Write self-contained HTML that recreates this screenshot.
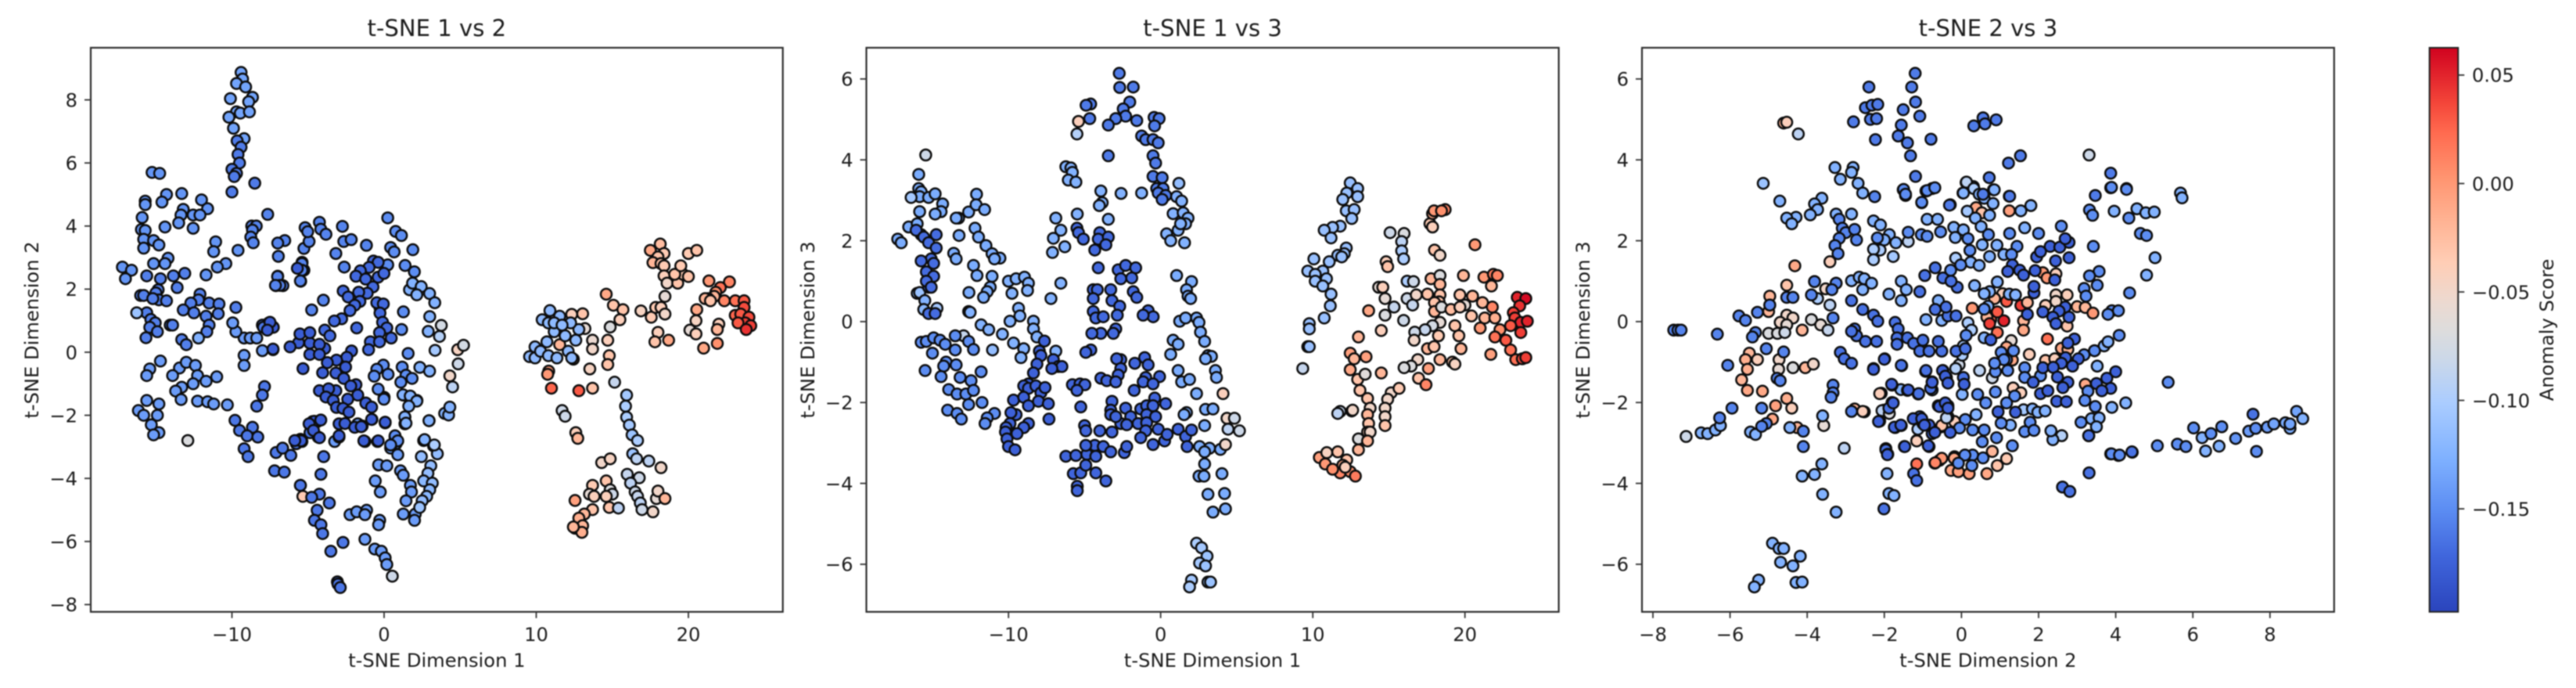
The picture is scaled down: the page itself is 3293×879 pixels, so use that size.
<!DOCTYPE html>
<html lang="en"><head><meta charset="utf-8"><title>t-SNE projections</title>
<style>
html,body{margin:0;padding:0;background:#fff;width:3293px;height:879px;overflow:hidden}
svg{display:block;filter:blur(.85px)}
text{font-family:"DejaVu Sans","Liberation Sans",sans-serif;fill:#1c1c1c;font-size:24.2px}
</style></head><body>
<svg id="chart" xmlns="http://www.w3.org/2000/svg" width="3293" height="879" viewBox="0 0 3293 879">
<defs><linearGradient id="cbGrad" x1="0" y1="1" x2="0" y2="0"></linearGradient></defs>
<rect width="3293" height="879" fill="#fff"/>
</svg>
<script>
/* ---------- axis ticks and scale ---------- */
const xTicksDim1=[-10,0,10,20];
const yTicksDim2=[-8,-6,-4,-2,0,2,4,6,8];
const yTicksDim3=[-6,-4,-2,0,2,4,6];
const xTicksDim2=[-8,-6,-4,-2,0,2,4,6,8];
const colorbarTicks=[-0.15,-0.10,-0.05,0.00,0.05];
const scoreDomain=[-0.1975,0.0626];
const colormapColors=["#2a44bc","#4066dc","#5b8cf2","#7eb0ff","#aaccff","#ccd8e8","#dddcdc","#ecd9d0","#ffcdb5","#ffb090","#ff9470","#ff6a4f","#f4473a","#d0021f"];
const colormapFractions=[0,.1,.18,.27,.37,.45,.5,.55,.62,.7,.77,.85,.9,1];

/* ---------- panel 1: dim 1 vs dim 2 ---------- */
const p1SpikeTopX=[-9.4,-9.3,-9.7,-9.1,-8.65,-10.1,-8.9,-9.7,-9.45,-8.85,-10.2,-9.9,-9.2];
const p1SpikeTopY=[8.87,8.66,8.52,8.41,8.08,8.04,7.94,7.62,7.58,7.62,7.45,7.1,6.77];
const p1SpikeTopS=[-0.135];
const p1SpikeLowX=[-9.66,-9.4,-9.6,-9.5,-10,-9.7,-9.85,-8.5,-10];
const p1SpikeLowY=[6.7,6.5,6.27,6,5.8,5.67,5.57,5.36,5.08];
const p1SpikeLowS=[-0.16];
const p1UpperLeftAX=[-15.25,-14.75,-13.3,-14.3,-14.6,-15.7,-15.7,-12,-11.6,-13.2,-13.35,-12.55,-12.1,-15.9,-13.5,-12.55,-14.4,-15.95,-15.7,-15.8,-15.15,-14.8,-15.8,-11.07,-11.2,-9.6,-10.4,-10.96,-11.7,-14.2,-14.4,-15.15,-17.2,-16.6,-17];
const p1UpperLeftAY=[5.7,5.67,5.03,5,4.76,4.79,4.68,4.83,4.55,4.53,4.35,4.35,4.35,4.27,4.1,3.93,3.97,3.89,3.86,3.58,3.54,3.4,3.3,3.5,3.19,3.23,2.81,2.7,2.45,2.98,2.81,2.81,2.7,2.6,2.33];
const p1UpperLeftAS=[-0.145];
const p1UpperLeftBX=[-15.6,-14.7,-13.85,-13.1,-13.6,-14.85,-16,-15.8,-15,-14.8,-14.3,-15.2,-12.1,-12.2,-12.7,-11.5,-10.85,-9.74,-15.6,-13.2,-12.5,-11.7,-10.9,-15.33,-15.04,-15.4,-14.9,-14.06,-13.9,-11.5,-11.65,-15.65,-13.3,-13];
const p1UpperLeftBY=[2.42,2.33,2.42,2.5,2.05,1.98,1.8,1.8,1.88,1.66,1.63,1.7,1.84,1.66,1.56,1.56,1.53,1.42,1.25,1.34,1.25,1.14,1.22,1.04,.93,.79,.65,.86,.86,.86,.65,.46,.4,.24];
const p1UpperLeftBS=[-0.158];
const p1PaleLeftX=[-16.26,-12.2,-12.9];
const p1PaleLeftY=[1.25,.45,-2.8];
const p1PaleLeftS=[-0.11,-0.125,-0.07];
const p1CentreUpperX=[-6.95,-6.53,-6.99,-5.27,-4.93,-5.19,-5.02,-4.25,-4.16,-3.82,-5.39,-5.27,-5.48,-6.99,-7.11,-6.65,-8.7,-8.4,-8.65,-8.76,-8.6,-7.65,-5.6,-5.4,-5.4,-7,-6.85,-7.14,-5.5,-2.65,-2.16,-2.74,-3.17,-2.62,-1.16,-3.99,-4.76];
const p1CentreUpperY=[3.04,3.54,3.46,3.29,3.51,3.95,3.82,4.12,3.9,3.74,2.85,2.6,2.25,2.41,2.11,2.11,4,4,3.87,3.65,3.47,4.37,2.67,2.81,2.6,2.4,2.12,2.12,2.26,3.51,3.57,3.99,3.13,2.7,3.39,1.65,1.34];
const p1CentreUpperS=[-0.155];
const p1CoreTopX=[-.7,-.39,-.99,-1.56,-1.85,-1.21,-.39,-.01,-.73,-1.11,-1.67,-2.69,-2.36,-1.59,-1.93,-2.24,-2.79,-3.27,-1.8,-3.9,-3.56,-.27,-.48,-.05,-.27,-.1,.18,-.3,.47,-.9,-.3,-1.02];
const p1CoreTopY=[2.89,2.85,2.69,2.58,2.41,2.32,2.38,2.5,2.07,1.87,1.9,1.94,1.75,1.61,1.49,1.32,1.06,.99,.77,.7,.52,1.41,1.57,1.53,1.24,.95,.77,.62,.45,.33,.33,.08];
const p1CoreTopS=[-0.17];
const p1CoreX=[-5.7,-3.9,-5.62,-6.18,-4.88,-5.53,-4.88,-4.25,-4.88,-4.25,-7.3,-7.28,-7.5,-7.67,-2.14,-2.45,-3.13,-3.73,-5.33,-2.53,-4.04,-3.17,-2.65,-1.85,-2.19,-3.17,-4.25,-3.65,-1.73,-3.82,-3.34,-2.39,-1.2,-.82,-3.13,-2.7,-2.31,-4.59,-4.16,-4.93,-4.64,-4.25,-5.45,-5.87,-2.96,-2.96,-2.57,-1.93,-1.5,-.82,.07,-1.33,-.39];
const p1CoreY=[2.66,.12,.3,.17,.29,.58,.62,.25,-.07,-.07,.1,.79,.95,.7,.04,-.16,-.25,-.33,-.52,-.47,-.65,-.66,-.83,-1.03,-1.07,-1.22,-1.22,-1.16,-1.36,-1.42,-1.53,-1.49,-1.61,-1.74,-1.75,-1.78,-1.9,-2.19,-2.15,-2.27,-2.48,-2.71,-2.81,-2.8,-2.65,-2.27,-2.26,-2.38,-2.36,-2.13,-2.22,-2.81,-2.81];
const p1CoreS=[-0.178];
const p1RightMidX=[.24,.76,1.14,.43,.66,1.89,1.38,1.99,.24,1.27,1.15,1.58,-.05,-.48,.26,-.65,-.39,-.01,1.19,1.44,1.84,1.1,.72,.9,.43,.07];
const p1RightMidY=[4.26,3.83,3.7,3.32,3.18,3.25,2.75,2.55,2.77,1.28,.72,-.04,-.41,-.54,-.7,-.76,-1.17,-1.49,-.47,-.73,-.83,-.95,-2.65,-2.81,-2.94,-2.22];
const p1RightMidS=[-0.15];
const p1RightArcX=[1.67,1.87,2.44,2.15,2.99,3.33,3,2.9,2.35,2.99,1.24,1.72,2.15,1.62,1.36,1.44,2.95,2.66,3.98,4.24,4.32];
const p1RightArcY=[1.98,2.19,2.08,1.82,1.86,1.57,1.13,.66,-.48,-.6,-1.35,-1.39,-1.55,-1.71,-2.05,-2.25,-2.17,-2.77,-1.94,-1.99,-1.74];
const p1RightArcS=[-0.125];
const p1RimX=[3.76,3.64,3.35,4.84,5.22,4.87,4.32,4.5,3.3];
const p1RimY=[.85,.5,.06,.08,.22,-.37,-.75,-1.1,-2.94];
const p1RimS=[-0.075,-0.095,-0.105,-0.045,-0.075,-0.08,-0.05,-0.09,-0.1];
const p1LowerLeftX=[-14.7,-15.4,-15.6,-13.45,-13,-12.4,-13.9,-12.26,-11,-11.7,-12.55,-13.3,-13.7,-13.34,-12.26,-11.6,-11.2,-10.3,-15.6,-14.8,-16.15,-15.8,-14.9,-15.3,-14.8,-15.15,-9.2,-8.8,-8.37,-9.74,-9.95,-9.2,-9.2,-8,-7.3];
const p1LowerLeftY=[-.28,-.53,-.74,-.5,-.32,-.42,-.74,-.74,-.78,-.92,-1,-1.11,-1.23,-1.5,-1.55,-1.57,-1.64,-1.67,-1.53,-1.64,-1.85,-2,-2,-2.3,-2.55,-2.62,.45,.45,.45,.65,.93,-.1,-.42,.05,.08];
const p1LowerLeftS=[-0.14];
const p1DeepMidX=[-8,-7.57,-7.3,-7.93,-7.86,-8,-8.37,-9.8,-9.5,-8.65,-9,-8.3,-9.2,-8.94,-7.1,-6.67,-6.13,-7.2,-6.56,-5.5,-5.77,-5.4,-4.7,-4.4,-4.33,-4.87,-3.97,-4.15,-5.5,-4.25,-4.76,-3.6,-4.4,-4.58,-4.15,-4.04,-3.5,-2.7,-3.07,-3.03,-2.88];
const p1DeepMidY=[.86,.93,.8,.79,-1.09,-1.36,-1.71,-2.16,-2.48,-2.38,-2.65,-2.69,-3.06,-3.31,-3.18,-3.04,-3.27,-3.76,-3.8,-2.76,-2.9,-2.83,-2.2,-2.2,-2.69,-2.55,-3.31,-3.87,-4.22,-4.5,-4.6,-4.78,-5.01,-5.33,-5.47,-5.75,-6.31,-6.03,-7.28,-7.35,-7.46];
const p1DeepMidS=[-0.162];
const p1LowerTailX=[-2.24,-1.8,-1.15,-1.26,-.29,-.36,-1.26,-.61,-.18,.07,.18,-3.25,-2.96,-1.26,-.43,.72,.79,.43,.9,-.36,.18,1.08,1.26,-.58,-.25,1.73,1.8,1.44,1.26,2.05,2,2.96,1.37,1.37,1.62,1.26,2.16,0,.07,-.8,-1.73,-1.44];
const p1LowerTailY=[-5.15,-5.06,-5.01,-5.15,-5.33,-5.47,-5.93,-6.24,-6.31,-6.52,-6.73,-2.83,-2.69,-2.83,-2.83,-2.69,-2.9,-3.04,-3.25,-3.57,-3.6,-3.76,-3.9,-4.08,-4.43,-4.22,-4.43,-4.71,-5.13,-5.13,-5.33,-2.17,-2.27,-2.06,-1.43,-1.36,-1.53,-1.43,-2.24,-2.13,-2.27,-2.34];
const p1LowerTailS=[-0.14];
const p1LowerRimX=[.54,2.6,3.25,3.5,2.45,3.07,2.88,2.6,3.17,3,2.8,2.5,2.34,-5.34,-5.5];
const p1LowerRimY=[-7.1,-2.8,-2.97,-3.22,-3.31,-3.6,-3.84,-4.08,-4.15,-4.36,-4.57,-4.71,-4.92,-4.57,-4.22];
const p1LowerRimS=[-0.08,-0.105,-0.11,-0.115,-0.115,-0.115,-0.115,-0.12,-0.115,-0.12,-0.12,-0.115,-0.11,-0.035,-0.1];
const p1IslandWarmX=[10.82,10.75,11,12.8,13.7,13.52,12.44,11.54,12.33,13.05,13.2,13.7,13.7];
const p1IslandWarmY=[-.6,-.7,-1.14,-1.22,-1.14,-.53,-.22,.24,1.2,1.22,.75,.38,.1];
const p1IslandWarmS=[0,0,.025,.03,-.03,-.045,-.02,-.02,-.04,-.03,-.06,-.055,-.05];
const p1IslandBlueX=[9.56,9.92,9.92,10.28,10.7,10.8,11.36,12.1,12.33,12.6,11.9,11.18,12.8,12.26,11.54,10.9,10.39,10.8,11.18,11.7];
const p1IslandBlueY=[-.14,.17,-.18,.03,.33,-.11,-.18,.03,-.18,.38,.52,.65,.72,.93,1.14,1.32,1.03,.93,.93,.86];
const p1IslandBlueS=[-0.118];
const p1BridgeX=[14.6,15.07,15.7,15.5,14.86,14.7,14.8,14.7,15.15,16.88,17.56,17.85,18.2,18.46,18.46,18,17.8,18.7];
const p1BridgeY=[1.84,1.49,1.35,1.03,.8,.38,-.11,-.39,-.95,1.31,1.11,1.42,1.42,1.21,1.77,.63,.33,.38];
const p1BridgeS=[-.01,-.03,-.03,-.04,-.07,-.04,-.03,-.03,-.085,-.045,-.035,-.035,-.04,-.05,-.06,-.04,-.03,-.01];
const p1TopRightX=[17.5,18.15,18.4,18,17.67,18.2,18.4,18.4,18.6,19.3,19.65,19.1,19.5,20,20.55,20];
const p1TopRightY=[3.23,3.43,3.13,3.02,2.84,2.81,2.74,2.42,2.19,2.19,2.47,2.47,2.74,3.13,3.23,2.4];
const p1TopRightS=[-.01,-.025,-.035,-.03,-.02,-.03,-.035,-.04,-.05,-.03,-.035,-.03,-.035,-.035,-.03,-.03];
const p1HotX=[21.35,22.7,22.1,21.8,21.7,21.3,21.1,21.45,22.36,23.08,23.66,23.66,20.55,23.08,23.44,23.98,23.73,23.26,24.1,23.8,20.5,22,21.9,20.1,20.5,21,21.9];
const p1HotY=[2.26,2.23,2.05,1.9,1.77,1.7,1.7,1.63,1.63,1.63,1.63,1.42,1.35,1.17,1.21,1.11,.93,.93,.84,.72,1,.89,.72,.7,.58,.13,.28];
const p1HotS=[0,.01,.02,.005,-.02,-.02,-.02,-.03,.01,.02,.03,.035,-.01,.025,.03,.035,.04,.03,.04,.045,-.045,-.04,-.02,-.06,-.04,-.01,.005];
const p1LowerColumnX=[15.94,15.87,15.94,16.12,16.3,16.66,16.34,16.6,17.4,18.2,15.98,16.77,16.2,16.5,16.66,16.84,16.95,17.67,17.9,18,18.46,11.7,11.9,12.6,12.73];
const p1LowerColumnY=[-1.36,-1.71,-2.06,-2.31,-2.62,-2.8,-3.22,-3.38,-3.45,-3.66,-3.87,-3.98,-4.15,-4.43,-4.57,-4.78,-4.99,-5.06,-4.64,-4.4,-4.64,-1.85,-2.03,-2.55,-2.73];
const p1LowerColumnS=[-.105,-.1,-.1,-.105,-.11,-.1,-.11,-.09,-.09,-.05,-.085,-.08,-.09,-.08,-.085,-.09,-.08,-.05,-.06,-.05,-.02,-.08,-.08,-.04,-.02];
const p1BottomClusterX=[14.3,14.86,14.6,13.7,13.5,13.8,12.55,13.7,14.86,15,14.6,14.8,15.4,13.16,12.8,12.55,13.05,13,12.44];
const p1BottomClusterY=[-3.5,-3.38,-4.08,-4.22,-4.5,-4.57,-4.7,-4.99,-4.36,-4.5,-4.57,-4.92,-4.94,-5.13,-5.26,-5.58,-5.5,-5.71,-5.54];
const p1BottomClusterS=[-.05,-.045,-.03,-.035,-.06,-.04,-.005,-.03,-.07,-.08,-.04,-.03,-.09,-.02,-.015,-.015,-.02,-.015,-.02];

/* ---------- panel 2: dim 1 vs dim 3 ---------- */
const p2PeakX=[-2.72,-2.69,-1.8,-2.03,-2.46,-2.3,-2.95,-3.44,-1.57,-4.6,-4.9,-4.66,-.43,-.1,-.4,-1.25,-.98,-.5,-.16,-.5,-3.44,-.33,-.5,.1,-.26,.16,-.16,.33,.1];
const p2PeakY=[6.14,5.79,5.8,5.43,5.26,5.08,5.02,4.86,4.97,5.38,5.35,5.02,5.05,5.02,4.84,4.59,4.5,4.5,4.42,4.1,4.1,3.92,3.59,3.56,3.29,3.29,3.18,3.12,3.02];
const p2PeakS=[-0.16];
const p2PeakPaleX=[-5.4,-5.5,1.2];
const p2PeakPaleY=[4.95,4.64,3.42];
const p2PeakPaleS=[-0.04,-0.095,-0.115];
const p2ShoulderX=[-6.23,-5.9,-5.8,-6.07,-5.57,-1.25,-2.6,-3.93,-3.84,-4.03,-3.44,-5.48,-6.89,-6.56,-7.05,-6.3,-7.11,-7.21,-6.56,1.05,1.38,.82,1.48,1.8,1.64,1.15,.39,.66,1.57,1.31];
const p2ShoulderY=[3.83,3.8,3.69,3.5,3.45,3.18,3.17,3.23,2.94,2.87,2.53,2.66,2.56,2.26,2.06,1.85,1.71,.57,.95,3.09,2.98,2.67,2.69,2.56,2.42,2.26,2.17,2,1.95,2.42];
const p2ShoulderS=[-0.125];
const p2MidDeepX=[-5.5,-5.4,-5.08,-4,-4.1,-3.44,-3.6,-4.33,-4.1,-2.79,-2.3,-1.64,-2.62,-1.9,-1.8,-1.57,-4.43,-4.16,-4.43,-3.28,-3.2,-2.69,-4.43,-4.26,-3.77,-2.85,-2.95,-3.11,-3.93,-4.52,-.82,-.49,-1.15];
const p2MidDeepY=[2.31,2.2,2.04,2.2,2.04,2.09,1.9,1.77,1.33,1.28,1.39,1.33,1.06,1.08,.74,.6,.79,.79,.57,.79,.52,.38,.25,.09,.12,.16,-.18,-.29,-.29,-.29,.27,.12,.16];
const p2MidDeepS=[-0.17];
const p2RightEdgeX=[1.05,2.03,1.7,1.8,1.97,1.25,1.64,2.36,2.52,2.62,2.89,.82,1.15,.66,3.11,3.34,2.95,3.6,3.67,2.36,1.15,1.38,1.9,1.7,1.54,2.95,3.44,2.89,2.56,3.21,3.93,2.89,2.89,2.52,2.85,4.03,3.11,4.2,4.26,3.44];
const p2RightEdgeY=[1.14,.99,.79,.63,.57,.01,.09,.09,-.02,-.26,-.49,-.46,-.56,-.81,-.84,-.86,-.92,-1.21,-1.38,-1.78,-1.21,-1.49,-1.43,-2.25,-2.3,-2.17,-2.16,-2.57,-3.09,-3.13,-3.16,-3.22,-3.52,-3.82,-3.82,-3.76,-4.27,-4.25,-4.63,-4.71];
const p2RightEdgeS=[-0.13];
const p2TailX=[4.1,4.36,4.85,4.43,5.18,4.26,2.36,2.69,3.05,2.56,2.95,2.03,1.9,3.11,3.28];
const p2TailY=[-1.78,-2.39,-2.39,-2.66,-2.7,-3.04,-5.48,-5.59,-5.8,-5.97,-6.04,-6.39,-6.56,-6.44,-6.44];
const p2TailS=[-.04,-.05,-.08,-.09,-.08,-.05,-.1,-.105,-.11,-.105,-.11,-.105,-.1,-.11,-.11];
const p2LowerDeepX=[-4.59,-4.92,-2.62,-2.89,-2.62,-2.79,-3.93,-3.54,-2.95,-1.7,-1.05,-.82,-.98,-1.15,-.07,-.5,-1.74,-5.8,-5.3,-4.98,-5.5,-5.25,-3.2,-3.28,-3.28,-2.3,-1.31,-.92,-.39,-.5,.33,-.92,-.33,-1.97,-2.62,-2.95,-5,-4.92,-4,-3.2,-2.23,-1.48,-.92,-.16,-.98,-1.31,-.5,.26,.43,1.15,1.64,2.03,1.74];
const p2LowerDeepY=[-.7,-.76,-.94,-.92,-1.16,-1.32,-1.4,-1.46,-1.49,-1.03,-.89,-1.07,-1.38,-1.49,-1.36,-1.54,-1.7,-1.56,-1.54,-1.56,-1.7,-2.11,-1.97,-2.19,-2.3,-2.14,-2.16,-2.08,-1.89,-2.08,-2.03,-2.3,-2.35,-2.35,-2.52,-2.35,-2.57,-2.7,-2.7,-2.73,-2.55,-2.52,-2.5,-2.66,-2.7,-2.87,-3.04,-2.95,-2.79,-2.66,-2.84,-2.68,-3.09];
const p2LowerDeepS=[-0.172];
const p2BasinX=[-6.23,-5.57,-4.85,-4.26,-4.33,-4.92,-3.77,-3.28,-2.39,-2.23,-4.26,-5.74,-5.25,-4.92,-4.26,-3.6,-5.48,-5.48];
const p2BasinY=[-3.33,-3.31,-3.28,-3.13,-3.06,-3.06,-3.09,-3.22,-3.24,-3.09,-3.33,-3.76,-3.74,-3.55,-3.74,-3.94,-4.07,-4.18];
const p2BasinS=[-0.172];
const p2LeftTopX=[-17.28,-17.05,-16.56,-16,-15.9,-15.9,-15.74,-15.84,-15.25,-14.82,-14.33,-14.43,-14.82,-15.84,-13.28,-13.44,-12.62,-12.1,-12.13,-11.57,-12.2,-11.97,-13.25,-11.48,-11.08,-10.56,-10.92,-13.6,-13.44,-12.3,-12.07,-11.08,-11.2,-11.4,-11.64,-12.6];
const p2LeftTopY=[2.04,1.95,2.34,2.42,3.64,3.29,3.21,3.09,3.07,3.16,2.91,2.72,2.66,2.72,2.56,2.56,2.71,3.15,2.89,2.77,2.31,2.09,2.13,1.88,1.68,1.57,1.55,1.69,1.55,1.39,1.14,1.12,.85,.74,.6,.72];
const p2LeftTopS=[-0.13];
const p2LeftPaleX=[-15.44,-16.4,-14.7,-16,-15.84,-15.5,-15.57];
const p2LeftPaleY=[4.12,3.07,.33,.7,.72,.52,.3];
const p2LeftPaleS=[-.08,-.105,-.105,-.11,-.11,-.125,-.12];
const p2LeftColumnX=[-15.74,-16.07,-15.57,-15.25,-14.75,-14.75,-15.08,-15.74,-14.92,-15.4,-14.92,-15.25,-15.4,-15.08,-15.25,-14.82];
const p2LeftColumnY=[2.15,2.26,2.09,1.95,2.15,1.82,1.55,1.5,1.44,1.23,1.12,.85,1,.85,.2,.2];
const p2LeftColumnS=[-0.168];
const p2DiagonalX=[-10,-9.5,-8.95,-8.69,-8.75,-9.77,-9.34,-9.25,-9.9,-8.36,-8.36,-8.13,-9.67,-9,-9.18,-6.89,-12.62,-12.52,-11.8,-11.3,-10.4];
const p2DiagonalY=[1,1.06,1.1,.95,.77,.7,.33,.14,.01,.01,-.18,-.38,-.53,-.67,-.89,-.73,.25,.23,-.08,-.2,-.31];
const p2DiagonalS=[-0.125];
const p2DiagonalDeepX=[-7.64,-7.97,-7.87,-7.05,-6.72,-6.49,-7.15,-8.13,-8.36,-8.69,-9,-8.69,-8.2,-7.87,-7.6,-9.67,-9,-8.69,-8.03,-7.38,-7.34,-9.5,-9.84,-9.9,-8.69,-9,-10.16,-10.2,-9.44,-10.1,-10,-9.57];
const p2DiagonalDeepY=[-.48,-.73,-.84,-.94,-1.11,-1.11,-1.16,-1.05,-1.27,-1.54,-1.59,-1.65,-1.59,-1.76,-1.63,-1.94,-1.87,-2.08,-1.97,-2.03,-2.41,-2.3,-2.25,-2.52,-2.52,-2.62,-2.62,-2.73,-2.77,-2.9,-3.09,-3.17];
const p2DiagonalDeepS=[-0.175];
const p2LowerLeftX=[-15.74,-15.4,-14.92,-14.5,-13.5,-12.62,-12.3,-13.5,-14.16,-15,-14.1,-14.26,-15.48,-13.44,-14.43,-13.18,-11.8,-12.46,-13.93,-13.38,-12.8,-12.3,-11.74,-14,-13.38,-12.62,-13.1,-10.92,-11.4,-11.54];
const p2LowerLeftY=[-.51,-.49,-.4,-.46,-.35,-.49,-.69,-.7,-.56,-.78,-1,-1.1,-1.21,-1.07,-1.36,-1.38,-1.24,-1.46,-1.68,-1.79,-1.79,-1.7,-2,-2.19,-2.27,-2.05,-2.41,-2.27,-2.38,-2.52];
const p2LowerLeftS=[-0.15];
const p2LowerLeftPaleX=[-12.95,-11.05];
const p2LowerLeftPaleY=[-.35,-.7];
const p2LowerLeftPaleS=[-0.085,-0.115];
const p2RightBlueX=[12.46,12.95,12.23,11.97,12.95,12.2,12.72,12.56,11.8,11.3,10.75,11.2,12.2,12.07,11.64,11.9,10.07,11.08,9.67,10.66,10.16,10.9,10.16,10.66,11.2,11.15,10.75,9.77,9.77,9.67,9.77];
const p2RightBlueY=[3.43,3.29,3.18,3.02,3.09,2.74,2.77,2.55,2.36,2.33,2.26,2.07,1.82,1.68,1.64,1.6,1.55,1.48,1.25,1.25,1.17,1.06,1,.88,.68,.39,.09,-.05,-.18,-.62,-.62];
const p2RightBlueS=[-0.112];
const p2RightAX=[9.34,15.08,16,15.84,15.84,15.97,14.82,14.92,17.7,17.87,17.87,17.97,18.7,18.46,18,18.36,20.66,17.77,18.36,19.9,21.25,21.87,22.13,21.74];
const p2RightAY=[-1.16,2.2,2.18,1.98,1.75,1.55,1.48,1.36,2.42,2.34,2.67,2.74,2.77,2.74,1.77,1.64,1.9,1.06,1.14,1.14,1.1,1.17,1.14,.88];
const p2RightAS=[-.085,-.08,-.07,-.09,-.1,-.1,-.04,-.03,-.035,-.04,-.01,0,.01,.005,-.03,-.05,0,-.02,-.07,-.02,0,.015,.01,-.02];
const p2RightBX=[16.2,16.62,14.33,14.6,14.75,16.2,16.8,17.54,18.36,18.36,18.3,18,16.56,15.34,13.67,14.75,15.97,14.5,13,18,18.46,18.36,17.87,17.38,16.7,16.66,17.54,18.26,17.97,16.9,16.46,16,17.6,18.36,16.95,17.44];
const p2RightBY=[1,.99,.85,.85,.57,.57,.66,.68,.92,.66,.49,.47,.41,.36,.27,.16,.03,-.22,-.38,.25,.36,-.02,-.1,-.2,-.26,-.46,-.67,-.35,-.62,-.94,-1.1,-1.14,-1.16,-.94,-1.4,-1.56];
const p2RightBS=[-.1,-.08,-.06,-.04,-.06,-.08,-.05,-.03,-.02,-.03,-.03,-.03,-.085,-.085,-.01,-.07,-.08,-.04,-.02,-.02,-.07,-.06,-.075,-.085,-.08,-.05,-.02,-.035,-.03,-.05,-.07,-.07,-.005,-.02,-.03,.01];
const p2HotX=[19.08,19.67,20,19.67,20.5,21.15,21.8,20.43,21.3,21.97,21,19.34,19.6,19.74,19.18,19.34,22.3,21.97,22.69,23,21.7,23.34,23.77,24,23.44,24,23.6,23.18,23.28,23.67,24.1,23,23.67];
const p2HotY=[.3,.66,.41,.36,.63,.47,.36,.14,.09,.09,-.16,-.1,-.35,-.67,-1,-1.05,-.2,-.38,-.46,-.7,-.81,-.94,-.92,-.89,.6,.57,.39,.22,.09,-.02,.01,-.1,-.27];
const p2HotS=[-.025,-.03,-.06,-.04,-.02,-.02,.01,-.03,-.02,-.015,0,-.03,-.03,-.02,-.03,-.045,.005,.02,.03,.02,-.005,.02,.035,.04,.05,.06,.045,.04,.04,.05,.05,.03,.04];
const p2LowRightX=[13.5,12.46,12.72,12.46,12.95,13.44,14.5,13.1,13.6,13.77,15.15,15.67,14.92,14.75,14.75,14.75,13.6,13.67,13.6,13.77,13,13.6,13,11.8,11.64,12.56,12.62];
const p2LowRightY=[-.87,-.78,-.92,-1.19,-1.43,-1.3,-1.27,-1.7,-1.9,-2.14,-1.76,-1.65,-1.92,-2.14,-2.35,-2.57,-2.3,-2.52,-2.73,-2.73,-2.9,-2.95,-3.17,-2.22,-2.27,-2.21,-2.19];
const p2LowRightS=[-.005,-.005,-.02,-.01,-.03,-.065,-.02,-.03,-.03,-.05,-.05,-.035,-.05,-.05,-.05,-.03,-.02,-.03,-.04,-.05,-.07,-.02,-.02,-.085,-.09,-.05,-.05];
const p2CornerX=[10.43,10.92,11.64,12.23,10.82,11.97,11.8,11.3,12.46,12.8,12.13];
const p2CornerY=[-3.36,-3.24,-3.22,-3.42,-3.52,-3.55,-3.74,-3.65,-3.71,-3.82,-3.6];
const p2CornerS=[-.005,-.045,-.03,-.03,0,-.01,.01,.005,.005,.015,-.04];

/* ---------- panel 3: dim 2 vs dim 3 ---------- */
const p3WarmCentreX=[1.24,.38,.53,2.11,2.22,2.45,1.07,.86,1.17,1.54,1.71,.28,2.45,2.74,2.45,3,3.21,3.41,2.18,2.74,.76,.93,.66,1.1,.73,1.61,1.61,.93,2.23,1.29,2.59,2.76,1.76,1.17,1.32,2.18,2.42,3.21,1.34,1.54];
const p3WarmCentreY=[2.74,2.82,2.69,1.21,1.08,1.18,.69,.57,.5,.4,.47,.33,.66,.66,.5,.37,.35,.21,.4,-.11,.05,.24,.11,.02,-.05,.02,-.21,-.27,-.43,-.47,-.66,-.69,-.81,-.63,-.95,-.96,-.92,-1.55,-1.64,-1.76];
const p3WarmCentreS=[-.005,-.01,-.03,0,0,-.04,-.04,-.02,.03,.04,-.02,0,-.05,-.04,-.05,-.02,-.02,0,-.04,-.03,.02,.03,-.02,.05,.04,-.02,-.01,.02,.02,-.06,-.01,-.02,-.04,-.01,-.01,-.03,-.04,-.01,-.04,-.04];
const p3WarmLowX=[-2.08,-2.52,-.18,-.52,-1.16,1.17,.93,.8,-1.16,-.57,-.69,-.18,-.27,-.08,.2,.66,-.19,-.51,-.68,-2.12,-.35,-.51,-1.16,-.06,-2.01];
const p3WarmLowY=[-1.77,-2.23,-2.47,-2.6,-2.94,-3.39,-3.56,-3.21,-3.52,-3.43,-3.5,-3.34,-3.68,-3.71,-3.76,-3.76,-3.38,-3.38,-3.49,-1.78,-2.35,-2.57,-2.95,-1.07,-2.19];
const p3WarmLowS=[-.04,-.05,-.04,-.04,-.035,-.035,-.03,-.02,.02,0,0,-.03,-.01,-.005,-.005,-.01,-.01,0,.01,-.04,-.06,-.03,-.04,-.08,-.07];
const p3WarmLeftX=[-4.61,-4.53,-3.41,-4.32,-5,-4.97,-4.53,-3.52,-4.53,-4.37,-4.7,-3.89,-3.65,-4.13,-4.53,-5,-4.77,-4.58,-5.5,-5.6,-5.29,-5.55,-5.7,-5.55,-5.16,-4.73,-4.74,-4.37,-4.05,-3.84,-4.53,-4.4,-4.82,-4.9,-4.26,-3.57,-2.77,-2.56];
const p3WarmLeftY=[4.91,4.93,1.48,1.38,.25,.63,.9,.81,.16,.09,-.02,.05,-.08,-.21,-.08,-.29,-.29,-.27,-.78,-.94,-.94,-1.18,-1.44,-1.7,-1.72,-.94,-1.18,-1.14,-1.14,-1.05,-1.9,-2.14,-2.08,-2.41,-2.62,-2.57,-2.16,-2.22];
const p3WarmLeftS=[-.02,-.04,-.04,-.01,-.02,-.02,-.03,-.05,-.05,-.05,-.05,-.07,-.06,-.02,-.06,-.07,-.07,-.08,-.02,-.015,-.04,-.015,-.02,-.01,-.01,-.05,-.06,-.07,-.02,-.05,-.015,-.04,-.005,-.01,-.02,-.06,-.02,-.04];
const p3PaleX=[.12,.31,1.24,.15,-1.38,-2.11,-2.28,-1.77,-2.28,-.15,.17,.26,.05,.02,-.15,.47,.8,-2.06,-1.87,-.39,-1.13,-1.96,1.61,3.3,2.6,-7.14,-4.97,-3.73,-3.46,-3.41,-4.23,3.31,.13,.32,-5.14,-3.04];
const p3PaleY=[3.44,3.34,3.1,2.73,1.98,1.77,1.79,1.61,1.53,1.57,-.03,-.21,-.6,-.83,-1.16,-1.21,-1.39,-2.2,-2.27,-2.38,-2.66,-3.14,-2.18,-2.82,-2.82,-2.84,.41,.57,-.21,.41,4.64,4.12,3.45,3.29,3.42,-3.13];
const p3PaleS=[-.1,-.095,-.105,-.105,-.09,-.1,-.1,-.105,-.1,-.1,-.1,-.1,-.105,-.1,-.095,-.09,-.08,-.09,-.07,-.09,-.1,-.1,-.105,-.095,-.095,-.08,-.09,-.1,-.085,-.09,-.09,-.08,-.09,-.1,-.11,-.09];
const p3LightX=[-.29,.04,.46,.83,.59,.82,1.54,1.8,.73,.36,.51,1.64,-2.28,-2.1,-1.87,-2,-1.7,-.89,-.62,-.2,.05,-.16,.54,.92,1.1,.73,.24,.46,3.96,4.55,4.78,5,5.02,4.8,5.68,5.72,.93,.34,.73,.59,1.24,1.4,.69,.76,.59,-1.55,-.93,-.76,-1.12,-1.57,.02,.38,1.27,1.84,1.98,2.17,3.3,3.37,3.57,3.5,2.37,2.32,3.45,3.7,3.8,4.26,3.9,3.52,6.24,6.33,6.68,4.43,-6.75,-6.58,-6.38,-6.25,-5.47,-5.34,-4.45,-3.6,-4.9,-4.73,-4.61,-4.69,-4.37,-4.18,-4.29,-4.13,-5.26,-5.37,-1.93,-1.88,-1.75,-3.62,-3.81,-4.13,-3.6,-3.25,-4.71,-3.28,-3.14,-2.81,-2.85,-2.68,-2.56,-3.62,-3.81,-3.73,-3.92,-4.29,-4.53,-4.4,-3.25,-2.85,-3.81,-3.25,-2.85,-2.65,-2.52,-2.33,-2.56,-1.88,-1.56,-1.43,-1.56,-.6,-.92,-.51,.85,.05,-.76,-.92,-1.03];
const p3LightY=[2.89,3.18,3.15,3.26,3.05,2.92,2.74,2.87,2.63,2.56,2.35,2.32,2.49,2.39,2.15,2.02,1.95,2.53,2.53,2.33,2.27,2.08,1.9,1.89,1.66,1.61,1.47,1.39,2.73,2.79,2.69,2.71,1.58,1.15,3.18,3.06,.98,.89,.74,.69,.68,.66,.38,-.45,-.4,-1.09,-1.23,-1.69,-1.79,-1.68,-1.8,-2.3,-2.56,-2.16,-2.24,-2.21,-2.82,-2.4,-2.38,-2.6,-2.92,-2.7,-.72,-.6,-.5,-2.01,-2.12,-1.1,-2.87,-3.2,-3.08,-3.23,-2.75,-2.77,-2.68,-2.57,-2.73,-2.79,-2.62,-2.33,-5.48,-5.61,-5.61,-5.95,-6.04,-5.8,-6.45,-6.44,-6.39,-6.56,-3.76,-4.25,-4.3,-3.52,-3.78,-3.82,-4.27,-4.71,2.98,3.81,3.52,3.81,3.69,3.42,3.18,3.05,2.91,2.77,2.64,2.58,2.56,2.42,2.66,2.66,.99,.95,1.01,1.1,1.06,.95,.79,.68,1,.79,.52,.52,.05,.03,3.26,3.18,3.29,3.23,2.94];
const p3LightS=[-0.125];
const p3RightTailX=[7.11,7.45,7.63,7.93,8.1,8.4,8.52,8.52,8.69,8.85,7.65];
const p3RightTailY=[-2.89,-2.71,-2.64,-2.61,-2.53,-2.5,-2.64,-2.53,-2.22,-2.4,-3.21];
const p3RightTailS=[-.145,-.14,-.15,-.14,-.135,-.13,-.13,-.135,-.135,-.125,-.15];
const p3TailDotX=[7.56];
const p3TailDotY=[-2.29];
const p3TailDotS=[-.165];
const p3MidX=[-1.5,-1.45,-.89,-.69,-1.03,2.59,2,-2.18,-1.38,-1.04,-.89,-.54,.17,.7,1.25,.22,1.44,1.3,-.02,-.28,.59,.12,.88,1.2,1.35,1.03,1.17,1.1,.86,1.64,1.64,2.05,.42,.88,1.38,1.17,.63,.1,-.05,.29,.59,1.03,1.78,1.64,1.88,.91,.54,1.32,.29,.09,.56,-.08,.27,3.42,3.32,3.4,3.89,4.28,4.34,4.64,4.8,4.36,3.57,3.32,3.52,3.18,3.23,3.9,4.07,3.8,4.09,3.45,3.18,3.28,3.2,3.47,3.1,6.02,6.47,6.75,5.08,5.6,5.82,3.89,4.1,5.36];
const p3MidY=[3.27,3.15,3.24,3.31,2.95,2.36,2.18,2.07,2.21,2.15,2.11,2.22,2.05,2.15,2.18,1.76,1.86,1.66,1.4,1.27,.31,-.34,-1.24,-1.21,-.72,-.76,-.94,-.94,-1.03,-1.14,-1.38,-1.34,-1.8,-1.74,-1.84,-2.01,-2.01,-2.42,-2.63,-2.68,-2.68,-2.51,-2.49,-2.72,-2.69,-2.87,-2.97,-3.07,-3.3,-3.3,-3.37,-3.5,-3.56,1.86,2.76,2.63,3.32,3.27,2.56,2.18,2.13,.71,1.24,1.13,.9,.82,.63,.27,.27,.18,-.34,-.72,-.82,-1.72,-1.95,-2.1,-2.49,-2.63,-2.77,-2.6,-3.07,-3.03,-3.09,-3.27,-3.3,-1.5];
const p3MidS=[-0.15];
const p3DeepX=[2.3,2.55,2.79,2.69,1.95,2.05,2.79,2.44,1.32,1.51,1.61,1.2,1.91,2.42,2.11,2.69,2.53,2.37,2.79,2.45,1.71,1.88,1.88,2.93,2.76,2.7,3.03,2.59,2.88,2.11,2.38,1.86,2.49,2.76,2.63,2.05,2.24,2.47,2.72,4,3.77,3.5,3.87,3.64,.76,.95,1.4,-1.81,-1.38,-1.77,-2.28,-2,-.49,-.42,-.35,-.76,.07,-2.15,-1.74,-1.57,-.57,-.42,-.35,-1.25,-1.03,-.84,-.96,-.69,-.29,-.86,-1.47,-1.92];
const p3DeepY=[1.86,1.84,1.96,2.05,1.6,1.73,1.58,1.5,1.4,1.27,1.15,1.24,1.26,1.03,.24,.36,.26,.11,.11,-.05,.18,.71,.87,-.43,-.53,-.89,-.92,-1.03,-1.1,-1.14,-1.13,-1.5,-1.37,-1.5,-1.63,-1.78,-1.71,-1.97,-1.98,-1.24,-1.4,-1.53,-1.65,-1.71,-.45,-2.23,-2.24,-1.55,-1.69,-2.01,-1.18,-.93,-1.21,-1.35,-1.52,-1.5,-1.55,-2.47,-2.61,-2.56,-2.1,-2.01,-2.14,-2.4,-2.4,-2.56,-2.56,-2.74,-2.74,-3.07,-3.09,-3.29];
const p3DeepS=[-0.175];
const p3LeftBlueX=[-7.46,-7.35,-7.27,-6.33,-6.27,-5.95,-6.06,-5.77,-5.6,-5.29,-5.34,-5.42,-5.06,-4.97,-4.53,-4.37,-3.89,-3.81,-3.25,-3.36,-3.33,-4.61,-4.78,-4.7,-5.18,-5.06,-5.18,-4.1,-4.1,-3.33,-3.33,-3.38,-2.85,-2.25,-3.17,-3.09,-3,-2.77,-3.17,-2.72,-3.28,-3.2];
const p3LeftBlueY=[-.21,-.21,-.21,-.31,-2.38,-2.14,-1.08,.14,.03,.23,-.27,-.38,-.67,.41,.6,.6,.66,.99,.95,.79,.09,-.75,-1.4,-1.46,-2.14,-2.52,-2.59,-2.71,-3.09,-1.57,-1.76,-1.87,-2.22,3.09,2.53,2.31,2.2,2.28,2.06,2.02,1.88,1.68];
const p3LeftBlueS=[-0.155];
const p3TopX=[-2.4,-2.49,-2.32,-2.17,-2.36,-2.2,-2.8,-2.23,-1.2,-1.29,-1.19,-1.51,-1.08,-1.56,-1.64,-1.4,-1.32,-.79,-1.19,-1.51,-1.45,.32,.56,.61,.9,1.22,1.53,3.87,3.87,4.28,3.47,.72,1.25,.56,-.31];
const p3TopY=[5.8,5.29,5.35,5.37,5,5.02,4.94,4.5,6.14,5.8,5.43,5.24,5.08,4.86,4.59,4.42,4.1,4.51,3.59,3.26,3.12,4.84,5.04,4.89,4.99,3.92,4.1,3.67,3.31,3.29,3.12,3.56,3.1,3.15,2.88];
const p3TopS=[-0.16];
const p3CentreLeftX=[-2.85,-2.56,-2.28,-2.17,-1.08,-.95,-2.77,-2.72,-2.85,-3.14,-3.04,-2.85,-2.49,-2.2,-2.28,-1.99,-1.72,-1.64,-1.67,-1.67,-1.4,-1.24,-1,-1.08,-.84,-.51,-.6,-.14,.1,-1.56,-.68,-.35,-.14,-.4,-.11,-.48,-.68,-.27,-.92,-.48,-.39,-.76,-.8,.05,-1.8,-1.4,-1.11,-.35,-.6,-1.8,-1.88,-2.12,-1.72,-1.56,-1.08,-.84,-1,-.76,-1.48,-.84,-1.96,-1.91,-1.24,-1.16,-2.01,2.62,2.81,3.31,3.87,4.07,4.42,3.3];
const p3CentreLeftY=[.52,.3,.16,.01,.74,1.14,-.18,-.35,-.24,-.76,-.92,-1.03,-.49,-.49,-1.16,-.92,-.02,-.18,-.4,-.56,-.4,-.54,-.46,-.73,-.73,-.73,-.49,-.73,-.67,-1.08,.3,.14,.14,.36,.85,1.08,1.33,1,-1.21,-1.21,-1.38,-1.49,-1.65,-1.38,-1.57,-1.7,-1.78,-2.08,-2.08,-2,-2.14,-2.46,-2.62,-2.57,-2.35,-2.57,-2.52,-2.77,-3.09,-3.09,-3.17,-3.28,-3.76,-3.93,-4.63,-4.09,-4.2,-3.74,-3.27,-3.31,-3.22,-2.82];
const p3CentreLeftS=[-0.165];

const panel1Groups=[
 [p1SpikeTopX,p1SpikeTopY,p1SpikeTopS],[p1SpikeLowX,p1SpikeLowY,p1SpikeLowS],[p1UpperLeftAX,p1UpperLeftAY,p1UpperLeftAS],[p1UpperLeftBX,p1UpperLeftBY,p1UpperLeftBS],[p1PaleLeftX,p1PaleLeftY,p1PaleLeftS],
 [p1LowerLeftX,p1LowerLeftY,p1LowerLeftS],[p1LowerTailX,p1LowerTailY,p1LowerTailS],[p1LowerRimX,p1LowerRimY,p1LowerRimS],[p1DeepMidX,p1DeepMidY,p1DeepMidS],[p1CentreUpperX,p1CentreUpperY,p1CentreUpperS],
 [p1RightArcX,p1RightArcY,p1RightArcS],[p1RimX,p1RimY,p1RimS],[p1RightMidX,p1RightMidY,p1RightMidS],[p1CoreTopX,p1CoreTopY,p1CoreTopS],[p1CoreX,p1CoreY,p1CoreS],
 [p1IslandWarmX,p1IslandWarmY,p1IslandWarmS],[p1IslandBlueX,p1IslandBlueY,p1IslandBlueS],[p1BridgeX,p1BridgeY,p1BridgeS],[p1TopRightX,p1TopRightY,p1TopRightS],[p1HotX,p1HotY,p1HotS],[p1LowerColumnX,p1LowerColumnY,p1LowerColumnS],[p1BottomClusterX,p1BottomClusterY,p1BottomClusterS]];
const panel2Groups=[
 [p2PeakPaleX,p2PeakPaleY,p2PeakPaleS],[p2ShoulderX,p2ShoulderY,p2ShoulderS],[p2PeakX,p2PeakY,p2PeakS],[p2RightEdgeX,p2RightEdgeY,p2RightEdgeS],[p2TailX,p2TailY,p2TailS],[p2MidDeepX,p2MidDeepY,p2MidDeepS],[p2LowerDeepX,p2LowerDeepY,p2LowerDeepS],[p2BasinX,p2BasinY,p2BasinS],
 [p2LeftTopX,p2LeftTopY,p2LeftTopS],[p2LeftPaleX,p2LeftPaleY,p2LeftPaleS],[p2LeftColumnX,p2LeftColumnY,p2LeftColumnS],[p2DiagonalX,p2DiagonalY,p2DiagonalS],[p2DiagonalDeepX,p2DiagonalDeepY,p2DiagonalDeepS],[p2LowerLeftPaleX,p2LowerLeftPaleY,p2LowerLeftPaleS],[p2LowerLeftX,p2LowerLeftY,p2LowerLeftS],
 [p2RightBlueX,p2RightBlueY,p2RightBlueS],[p2RightAX,p2RightAY,p2RightAS],[p2RightBX,p2RightBY,p2RightBS],[p2HotX,p2HotY,p2HotS],[p2LowRightX,p2LowRightY,p2LowRightS],[p2CornerX,p2CornerY,p2CornerS]];
const panel3Groups=[
 [p3WarmCentreX,p3WarmCentreY,p3WarmCentreS],[p3WarmLowX,p3WarmLowY,p3WarmLowS],[p3WarmLeftX,p3WarmLeftY,p3WarmLeftS],[p3PaleX,p3PaleY,p3PaleS],[p3LightX,p3LightY,p3LightS],[p3RightTailX,p3RightTailY,p3RightTailS],[p3TailDotX,p3TailDotY,p3TailDotS],[p3LeftBlueX,p3LeftBlueY,p3LeftBlueS],[p3TopX,p3TopY,p3TopS],[p3CentreLeftX,p3CentreLeftY,p3CentreLeftS],[p3MidX,p3MidY,p3MidS],[p3DeepX,p3DeepY,p3DeepS]];

/* ---------- rendering ---------- */
const svg=document.getElementById('chart');
const NS='http://www.w3.org/2000/svg';
function node(tag,attrs,parent){
 const e=document.createElementNS(NS,tag);
 for(const k in attrs)e.setAttribute(k,attrs[k]);
 (parent||svg).appendChild(e);
 return e;
}
function hex(c){return [parseInt(c.slice(1,3),16),parseInt(c.slice(3,5),16),parseInt(c.slice(5,7),16)];}
function scoreColor(s){
 const t=Math.max(0,Math.min(1,(s-scoreDomain[0])/(scoreDomain[1]-scoreDomain[0])));
 let i=0;
 while(i<colormapFractions.length-2&&t>colormapFractions[i+1])i++;
 const f=(t-colormapFractions[i])/(colormapFractions[i+1]-colormapFractions[i]);
 const a=hex(colormapColors[i]),b=hex(colormapColors[i+1]);
 return 'rgb('+a.map((v,k)=>Math.round(v+(b[k]-v)*f)).join(',')+')';
}
function fmt(v){return String(v).replace('-','\u2212');}
function drawPanel(cfg){
 const g=node('g',{});
 
 
 const sx=v=>cfg.x0+cfg.xScale*v;
 const sy=v=>cfg.y0-cfg.yScale*v;
 const bg=node('rect',{x:cfg.left,y:cfg.top,width:cfg.right-cfg.left,height:cfg.bottom-cfg.top,fill:'#fff'},g);
 
 
 const pts=node('g',{stroke:'#0c0c0c','stroke-width':2.5},g);
 
 
 cfg.groups.forEach(gr=>{
  const xs=gr[0],ys=gr[1],ss=gr[2];
  const n=Math.min(xs.length,ys.length);
  for(let i=0;i<n;i++){
   const s=ss.length===1?ss[0]:ss[i];
   const c=node('circle',{cx:sx(xs[i]),cy:sy(ys[i]),r:7,fill:scoreColor(s)},pts);
   
   
  }
 });
 const frame=node('rect',{x:cfg.left,y:cfg.top,width:cfg.right-cfg.left,height:cfg.bottom-cfg.top,fill:'none',stroke:'#2e2e2e','stroke-width':2.2},g);
 
 
 cfg.xTicks.forEach(v=>{
  const tk=node('line',{x1:sx(v),x2:sx(v),y1:cfg.bottom,y2:cfg.bottom+8,stroke:'#333','stroke-width':1.8},g);
  
  
  const t=node('text',{x:sx(v),y:819,'text-anchor':'middle'},g);
  t.textContent=fmt(v);
  
  
 });
 cfg.yTicks.forEach(v=>{
  const tk=node('line',{x1:cfg.left-8,x2:cfg.left,y1:sy(v),y2:sy(v),stroke:'#333','stroke-width':1.8},g);
  
  
  const t=node('text',{x:cfg.left-17,y:sy(v)+8.8,'text-anchor':'end'},g);
  t.textContent=fmt(v);
  
  
 });
 const cx=(cfg.left+cfg.right)/2;
 const title=node('text',{x:cx,y:46,'text-anchor':'middle',style:'font-size:29.1px'},g);
 title.textContent=cfg.title;
 
 
 const xl=node('text',{x:cx,y:852,'text-anchor':'middle'},g);
 xl.textContent=cfg.xLabel;
 
 
 const yl=node('text',{'text-anchor':'middle',transform:'translate('+cfg.yLabelX+',421.5) rotate(-90)'},g);
 yl.textContent=cfg.yLabel;
 
 
}
drawPanel({name:'panel-tsne-1-vs-2',title:'t-SNE 1 vs 2',xLabel:'t-SNE Dimension 1',yLabel:'t-SNE Dimension 2',left:116,right:1000.7,top:61,bottom:781.7,x0:491,xScale:19.45,y0:450,yScale:40.3,xTicks:xTicksDim1,yTicks:yTicksDim2,yLabelX:49,groups:panel1Groups});
drawPanel({name:'panel-tsne-1-vs-3',title:'t-SNE 1 vs 3',xLabel:'t-SNE Dimension 1',yLabel:'t-SNE Dimension 3',left:1107.5,right:1992.6,top:61,bottom:781.7,x0:1483.7,xScale:19.45,y0:410.9,yScale:51.67,xTicks:xTicksDim1,yTicks:yTicksDim3,yLabelX:1041,groups:panel2Groups});
drawPanel({name:'panel-tsne-2-vs-3',title:'t-SNE 2 vs 3',xLabel:'t-SNE Dimension 2',yLabel:'t-SNE Dimension 3',left:2099,right:2983.8,top:61,bottom:781.7,x0:2507.4,xScale:49.3,y0:410.9,yScale:51.67,xTicks:xTicksDim2,yTicks:yTicksDim3,yLabelX:2032,groups:panel3Groups});

/* colorbar */
const grad=document.getElementById('cbGrad');
colormapColors.forEach((c,i)=>{node('stop',{offset:colormapFractions[i],'stop-color':c},grad);});
const cb=node('g',{});


const cbTop=61,cbBottom=781.7,cbLeft=3105.7,cbRight=3142.3;
const cbY=v=>cbBottom-(v-scoreDomain[0])/(scoreDomain[1]-scoreDomain[0])*(cbBottom-cbTop);
const cbRect=node('rect',{x:cbLeft,y:cbTop,width:cbRight-cbLeft,height:cbBottom-cbTop,fill:'url(#cbGrad)',stroke:'#222','stroke-width':2},cb);


colorbarTicks.forEach(v=>{
 const tk=node('line',{x1:cbRight,x2:cbRight+8,y1:cbY(v),y2:cbY(v),stroke:'#333','stroke-width':1.8},cb);
 
 
 const t=node('text',{x:3160,y:cbY(v)+8.8},cb);
 t.textContent=fmt(v.toFixed(2));
 
 
});
const cbl=node('text',{'text-anchor':'middle',transform:'translate(3264,421.5) rotate(-90)'},cb);
cbl.textContent='Anomaly Score';


</script>
</body></html>
